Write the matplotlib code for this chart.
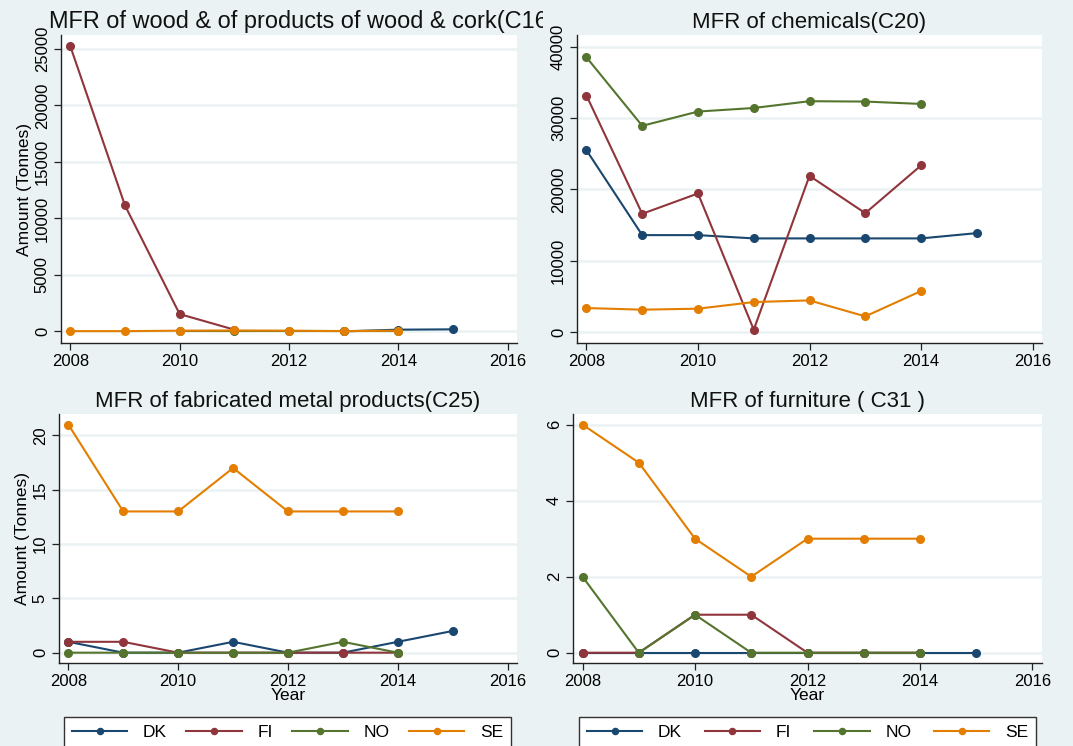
import numpy as np
import matplotlib
matplotlib.use("Agg")
import matplotlib.pyplot as plt
from matplotlib.transforms import Bbox, TransformedBbox

plt.rcParams["font.family"] = ["Liberation Sans", "DejaVu Sans"]

# Data
years = [2008, 2009, 2010, 2011, 2012, 2013, 2014, 2015]
nan = np.nan

# MFR of wood & of products of wood & cork (C16)
c16_dk = [nan, nan, nan, nan, nan, 0, 150, 180]
c16_fi = [25250, 11150, 1530, 150, nan, nan, nan, nan]
c16_no = [nan, nan, 10, 10, 10, 10, 10, nan]
c16_se = [20, 20, 60, 80, 60, 20, 60, nan]

# MFR of chemicals (C20)
c20_dk = [25480, 13580, 13580, 13120, 13120, 13120, 13120, 13860]
c20_fi = [33140, 16570, 19420, 330, 21890, 16660, 23340, nan]
c20_no = [38500, 28900, 30900, 31400, 32350, 32300, 31970, nan]
c20_se = [3360, 3130, 3270, 4200, 4430, 2190, 5740, nan]

# MFR of fabricated metal products (C25)
c25_dk = [1, 0, 0, 1, 0, 0, 1, 2]
c25_fi = [1, 1, 0, 0, 0, 0, 0, nan]
c25_no = [0, 0, 0, 0, 0, 1, 0, nan]
c25_se = [21, 13, 13, 17, 13, 13, 13, nan]

# MFR of furniture (C31)
c31_dk = [0, 0, 0, 0, 0, 0, 0, 0]
c31_fi = [0, 0, 1, 1, 0, 0, 0, nan]
c31_no = [2, 0, 1, 0, 0, 0, 0, nan]
c31_se = [6, 5, 3, 2, 3, 3, 3, nan]

countries = ["DK", "FI", "NO", "SE"]
colors = ["#1A476F", "#90353B", "#55752F", "#E37E00"]

titles = [
    "MFR of wood & of products of wood & cork(C16)",
    "MFR of chemicals(C20)",
    "MFR of fabricated metal products(C25)",
    "MFR of furniture ( C31 )",
]
panel_series = [
    [c16_dk, c16_fi, c16_no, c16_se],
    [c20_dk, c20_fi, c20_no, c20_se],
    [c25_dk, c25_fi, c25_no, c25_se],
    [c31_dk, c31_fi, c31_no, c31_se],
]
y_ticks = [
    [0, 5000, 10000, 15000, 20000, 25000],
    [0, 10000, 20000, 30000, 40000],
    [0, 5, 10, 15, 20],
    [0, 2, 4, 6],
]
y_limits = [(-1030, 26240), (-1540, 41630), (-0.95, 21.97), (-0.27, 6.28)]
x_ticks = [2008, 2010, 2012, 2014, 2016]

W, H = 1073, 746
bg = "#EAF2F3"
fig = plt.figure(figsize=(W / 100, H / 100), dpi=100, facecolor=bg)


def frac(x0, y0, x1, y1):
    return [x0 / W, 1 - y1 / H, (x1 - x0) / W, (y1 - y0) / H]


positions = [
    frac(61, 35, 517, 343),
    frac(577, 35, 1042, 343),
    frac(59, 414, 517, 663),
    frac(573, 414, 1042, 663),
]

axes = []
for i in range(4):
    ax = fig.add_axes(positions[i])
    ax.set_facecolor("white")
    for s, c in zip(panel_series[i], colors):
        ax.plot(years, s, color=c, lw=1.5, marker="o", markersize=5.5)
    ax.set_xlim(2007.83, 2016.17)
    ax.set_ylim(*y_limits[i])
    ax.set_xticks(x_ticks)
    ax.set_yticks(y_ticks[i])
    ax.set_yticklabels([str(v) for v in y_ticks[i]], rotation=90, va="center")
    ax.tick_params(axis="both", labelsize=12, length=5, width=0.9,
                   color="#222222", pad=3)
    ax.grid(axis="y", color=bg, lw=1.8)
    ax.set_axisbelow(True)
    ax.spines["top"].set_visible(False)
    ax.spines["right"].set_visible(False)
    for side in ["left", "bottom"]:
        ax.spines[side].set_color("#222222")
        ax.spines[side].set_linewidth(1.0)
    x0, y0, w, h = positions[i]
    if i == 0:
        # the long title runs under the neighbouring panel in the source
        t = fig.text(49 / W, y0 + h + 7 / H, titles[i], fontsize=16.9,
                     color="#111111", ha="left", va="baseline")
        t.set_clip_on(True)
        t.set_clip_box(TransformedBbox(Bbox([[0, 0], [543 / W, 1]]),
                                       fig.transFigure))
    else:
        fig.text(x0 + w / 2, y0 + h + 7 / H, titles[i], fontsize=16,
                 color="#111111", ha="center", va="baseline")
    if i in (0, 2):
        ax.set_ylabel("Amount (Tonnes)", fontsize=12.5, labelpad=2)
    if i in (2, 3):
        ax.set_xlabel("Year", fontsize=12.5, labelpad=-1)
    axes.append(ax)

# legends under the bottom panels (cut off by the figure edge as in the source)
legend_boxes = [(64, 717, 511), (579, 717, 1036)]
for ax, (lx0, ly0, lx1) in zip(axes[2:], legend_boxes):
    handles = ax.get_lines()[:4]
    leg = fig.legend(handles, countries, ncol=4, loc="upper left",
                     bbox_to_anchor=(lx0 / W, 1 - ly0 / H, (lx1 - lx0) / W, 0.0),
                     mode="expand", fontsize=12.5, frameon=True, fancybox=False,
                     edgecolor="#333333", framealpha=1, handlelength=3.2,
                     handletextpad=0.9, borderaxespad=0, borderpad=0.45,
                     markerscale=0.8)
    leg.get_frame().set_linewidth(1.0)

fig.savefig("out.png", dpi=100, facecolor=bg)
